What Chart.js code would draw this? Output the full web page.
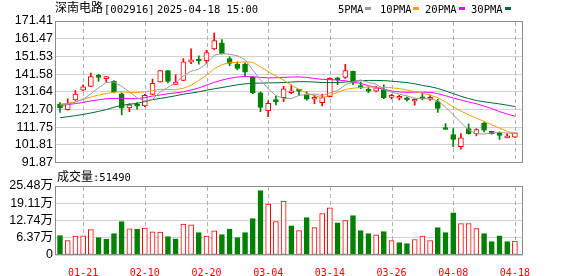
<!DOCTYPE html>
<html>
<head>
<meta charset="utf-8">
<script src="https://cdn.jsdelivr.net/npm/chart.js@4.4.1/dist/chart.umd.min.js"></script>
<style>
  html, body { margin: 0; padding: 0; background: #fff; }
  #wrap { position: relative; width: 578px; height: 276px; overflow: hidden; }
  canvas { position: absolute; left: 0; }
  #k { top: 0; }
  #v { top: 168px; }
</style>
</head>
<body>
<div id="wrap">
  <canvas id="k" width="578" height="172"></canvas>
  <canvas id="v" width="578" height="108"></canvas>
</div>
<script>
'use strict';

var stockName = '深南电路';
var stockCode = '002916';
var quoteTime = '2025-04-18 15:00';

var dates = ['01-16','01-17','01-20','01-21','01-22','01-23','01-24','01-27',
  '02-05','02-06','02-07','02-10','02-11','02-12','02-13','02-14','02-17','02-18','02-19','02-20',
  '02-21','02-24','02-25','02-26','02-27','02-28','03-03','03-04','03-05','03-06','03-07','03-10',
  '03-11','03-12','03-13','03-14','03-17','03-18','03-19','03-20','03-21','03-24','03-25','03-26',
  '03-27','03-28','03-31','04-01','04-02','04-03','04-07','04-08','04-09','04-10','04-11','04-14',
  '04-15','04-16','04-17','04-18'];
var tickDates = ['01-21','02-10','02-20','03-04','03-14','03-26','04-08','04-18'];

var openP  = [124.8,121.5,127.0,132.5,134.7,140.2,139.0,137.5,130.5,122.6,124.3,123.7,130.1,137.1,143.5,135.8,138.0,148.2,149.6,149.1,
              155.7,159.1,150.3,147.0,147.0,139.7,131.0,121.0,127.2,128.3,131.1,132.5,129.8,127.4,125.5,128.9,139.2,139.7,143.1,135.1,
              132.9,132.0,132.9,128.5,128.0,128.0,126.3,128.7,127.4,126.1,110.6,107.6,100.8,110.9,108.1,114.0,109.4,107.8,105.7,106.1];
var highP  = [125.5,127.6,132.3,135.6,142.1,141.5,140.2,137.9,131.0,125.0,125.5,130.2,138.8,143.6,143.6,141.1,150.3,155.8,151.8,154.9,
              164.6,160.9,151.2,148.5,147.9,140.2,131.6,126.5,129.2,134.7,135.6,132.9,131.6,129.8,130.2,139.5,139.7,147.0,143.2,136.9,
              134.2,134.7,135.6,130.2,129.6,128.7,127.6,130.7,129.8,127.4,113.7,110.9,108.1,113.6,110.9,114.6,109.4,109.1,108.1,108.5];
var lowP   = [120.0,121.3,126.8,132.3,134.5,137.5,137.0,131.0,118.6,120.4,121.9,123.3,130.0,137.0,136.6,135.6,137.8,147.4,147.2,147.4,
              155.2,152.7,146.3,143.9,140.2,130.5,120.4,117.7,124.3,126.1,130.5,129.6,126.9,125.0,123.7,128.7,135.6,139.2,135.6,133.4,
              131.1,131.6,127.7,127.6,127.0,126.3,124.1,127.0,126.7,120.0,110.4,100.8,99.3,107.8,106.8,109.1,107.8,104.8,105.7,106.0];
var closeP = [122.6,125.0,130.3,134.4,140.2,139.7,139.5,131.6,122.4,124.3,123.5,129.6,136.4,143.5,137.5,137.1,148.5,149.6,148.9,153.6,
              160.4,153.0,147.6,144.8,142.6,131.0,122.8,125.2,126.1,133.3,131.6,132.0,127.4,128.0,128.3,139.2,138.4,143.5,136.5,133.8,
              132.0,133.8,128.3,128.9,128.3,127.1,127.4,127.6,128.3,122.2,110.4,104.8,105.7,108.1,110.4,110.0,108.1,107.1,105.9,108.5];
var prevClose = 124.9;

var ma5  = [124.3,124.6,125.8,127.5,130.5,133.9,136.8,137.1,134.7,131.5,128.3,126.5,127.4,131.5,134.1,136.8,140.6,143.2,144.3,147.5,
            152.2,153.1,152.7,151.9,149.7,143.8,138.3,133.3,129.5,127.9,127.8,129.6,130.1,130.3,129.5,131.0,132.3,135.5,137.2,138.3,
            136.8,135.9,132.9,131.4,130.3,129.3,128.0,127.8,127.7,126.5,123.1,118.7,114.3,110.2,108.0,107.9,108.5,108.7,108.4,108.1];
var ma10 = [124.6,125.2,126.0,127.4,128.6,129.8,130.6,131.4,131.6,131.3,131.2,131.6,132.3,133.0,132.9,132.8,133.6,135.3,138.0,140.9,
            144.6,146.9,148.0,148.2,148.4,148.2,145.6,143.0,140.5,138.2,135.3,133.0,130.9,129.4,128.4,129.6,131.3,132.9,133.6,134.1,
            134.3,134.2,134.1,133.9,133.4,132.6,131.8,130.8,129.7,128.3,125.9,123.1,120.8,118.6,116.8,115.0,113.1,111.2,109.4,108.2];
var ma20 = [123.9,124.4,125.0,125.6,126.5,127.1,127.7,127.9,127.9,127.8,127.7,128.3,129.2,129.8,130.5,131.0,131.6,132.6,133.8,135.4,
            136.9,138.2,139.2,139.9,140.2,140.1,139.7,139.4,139.5,139.7,139.9,140.0,139.7,139.1,138.6,138.5,138.2,137.8,137.1,136.3,
            135.1,134.1,133.0,132.1,131.5,131.3,131.4,131.4,131.3,130.6,129.4,128.1,127.0,125.9,124.9,123.6,122.2,120.5,119.1,117.9];
var ma30 = [117.0,117.6,118.2,118.9,119.7,120.6,121.6,122.9,124.0,124.6,125.1,126.1,127.2,127.9,128.6,129.4,130.3,130.9,131.6,132.5,
            133.3,134.0,134.8,135.5,136.1,136.4,136.5,136.6,136.7,136.8,137.1,137.3,137.3,137.1,136.8,136.8,136.8,137.1,137.5,137.8,
            138.0,138.0,137.9,137.6,137.2,136.8,136.1,135.2,134.5,133.5,132.1,130.6,129.1,127.8,126.7,126.0,125.4,124.8,124.1,123.3];

var volume = [71400,52900,70200,70500,93600,64100,58000,79200,123000,96200,96000,99700,85100,84900,68200,60100,114300,111000,82500,70300,
              89100,75200,96000,64300,82400,134200,238100,188400,123300,199200,108100,90200,138000,101300,153100,174200,119200,127400,145300,90100,
              79200,74100,86200,53200,46100,42300,57100,70200,53400,101000,82600,156100,116300,116200,97200,79100,49300,71000,49200,51490];

var priceTicks = [91.87, 101.81, 111.75, 121.70, 131.64, 141.58, 151.53, 161.47, 171.41];
var volTicks = [0, 63700, 127400, 191100, 254800];

var maNames = ['5PMA', '10PMA', '20PMA', '30PMA'];
var maColors = ['#9a9a9a', '#f5a200', '#ff00ff', '#00693a'];
var legendX = [338, 380, 425, 471];
var swatchX = [365, 413, 459, 505];

var upColor = '#ff0000';
var downColor = '#008000';
var labelFont = '"Liberation Sans", "Noto Sans CJK SC", sans-serif';
var monoFont = '"DejaVu Sans Mono", monospace';
var cjkFont = '"Noto Sans CJK SC", sans-serif';

var tickIdx = tickDates.map(function (d) { return dates.indexOf(d); });

function xy(arr) {
  return arr.map(function (v, i) { return {x: i, y: v}; });
}

var isUp = closeP.map(function (c, i) { return c >= openP[i]; });
var volUp = closeP.map(function (c, i) { return c >= (i === 0 ? prevClose : closeP[i - 1]); });

function dateAxis(showLabels) {
  return {
    type: 'linear',
    min: -0.65,
    max: 60.05,
    offset: false,
    afterBuildTicks: function (s) {
      s.ticks = tickIdx.map(function (v) { return {value: v}; });
    },
    afterFit: function (s) { s.height = showLabels ? 21 : 0; },
    grid: { display: false },
    border: { display: false },
    ticks: {
      display: showLabels,
      autoSkip: false,
      maxRotation: 0,
      padding: 4,
      color: '#ff0000',
      font: { family: monoFont, size: 10 },
      callback: function (v) { return dates[v]; }
    }
  };
}

function valueAxis(min, max, ticks, fmt) {
  return {
    min: min,
    max: max,
    afterBuildTicks: function (s) {
      s.ticks = ticks.map(function (v) { return {value: v}; });
    },
    afterFit: function (s) { s.width = 55; },
    grid: { color: '#d2d2d2', drawTicks: false },
    border: { display: false },
    ticks: { autoSkip: false, padding: 2, color: '#000', font: { family: labelFont, size: 12.5 }, callback: fmt }
  };
}

// dashed vertical lines at the date ticks (dashes drawn as short segments)
var dashedGrid = {
  id: 'dashedGrid',
  beforeDatasetsDraw: function (chart) {
    var xs = chart.scales.x, a = chart.chartArea, ctx = chart.ctx;
    ctx.save();
    ctx.fillStyle = '#b0b0b0';
    tickIdx.forEach(function (v) {
      var px = Math.round(xs.getPixelForValue(v));
      for (var y = Math.round(a.top) + 1; y < a.bottom - 1; y += 7) {
        ctx.fillRect(px, y, 1, Math.min(4, a.bottom - 1 - y));
      }
    });
    ctx.restore();
  }
};

var frame = {
  id: 'frame',
  afterDatasetsDraw: function (chart) {
    var a = chart.chartArea, ctx = chart.ctx;
    ctx.save();
    ctx.strokeStyle = '#8c8c8c';
    ctx.lineWidth = 1;
    ctx.strokeRect(Math.round(a.left) + 0.5, Math.round(a.top) + 0.5,
      Math.round(a.right - a.left) - 1, Math.round(a.bottom - a.top) - 1);
    ctx.restore();
  }
};

var header = {
  id: 'header',
  afterDraw: function (chart) {
    var ctx = chart.ctx;
    ctx.save();
    ctx.fillStyle = '#000';
    ctx.font = '12px ' + cjkFont;
    ctx.fillText(stockName, 55, 12);
    ctx.font = '10.5px ' + monoFont;
    ctx.fillText('[' + stockCode + ']', 104, 12.5);
    ctx.fillText(quoteTime, 157, 12.5);
    maNames.forEach(function (n, k) {
      ctx.fillStyle = '#000';
      ctx.fillText(n, legendX[k], 12.5);
      ctx.fillStyle = maColors[k];
      ctx.fillRect(swatchX[k], 7, 6, 3);
    });
    ctx.restore();
  }
};

var volHeader = {
  id: 'volHeader',
  afterDraw: function (chart) {
    var ctx = chart.ctx;
    ctx.save();
    ctx.fillStyle = '#000';
    ctx.font = '12px ' + cjkFont;
    ctx.fillText('成交量', 57, 12.5);
    ctx.font = '10.5px ' + monoFont;
    ctx.fillText(':' + volume[volume.length - 1], 93, 12.5);
    ctx.restore();
  }
};

var maSets = [ma5, ma10, ma20, ma30].map(function (arr, k) {
  return {
    type: 'line',
    data: xy(arr),
    borderColor: maColors[k],
    borderWidth: 1,
    pointRadius: 0,
    tension: 0,
    order: 0
  };
});

new Chart(document.getElementById('k'), {
  type: 'bar',
  data: {
    datasets: maSets.concat([
      {
        data: dates.map(function (d, i) { return {x: i, y: [openP[i], closeP[i]]}; }),
        backgroundColor: isUp.map(function (u) { return u ? '#ffffff' : downColor; }),
        borderColor: isUp.map(function (u) { return u ? upColor : downColor; }),
        borderWidth: 1,
        borderSkipped: false,
        barThickness: 5,
        minBarLength: 2,
        grouped: false,
        order: 1
      },
      {
        data: dates.map(function (d, i) { return {x: i, y: [lowP[i], highP[i]]}; }),
        backgroundColor: isUp.map(function (u) { return u ? upColor : downColor; }),
        borderWidth: 0,
        barThickness: 1,
        grouped: false,
        order: 2
      }
    ])
  },
  options: {
    responsive: false,
    animation: false,
    devicePixelRatio: 1,
    layout: { padding: { top: 21, right: 55, bottom: 7, left: 0 } },
    plugins: { legend: { display: false }, tooltip: { enabled: false } },
    scales: {
      x: dateAxis(false),
      y: valueAxis(91.87, 171.41, priceTicks, function (v) { return v.toFixed(2); })
    }
  },
  plugins: [dashedGrid, frame, header]
});

new Chart(document.getElementById('v'), {
  type: 'bar',
  data: {
    datasets: [{
      data: xy(volume),
      backgroundColor: volUp.map(function (u) { return u ? '#ffffff' : downColor; }),
      borderColor: volUp.map(function (u) { return u ? upColor : downColor; }),
      borderWidth: 1,
      borderSkipped: false,
      barThickness: 5,
      grouped: false
    }]
  },
  options: {
    responsive: false,
    animation: false,
    devicePixelRatio: 1,
    layout: { padding: { top: 18, right: 55, bottom: 0, left: 0 } },
    plugins: { legend: { display: false }, tooltip: { enabled: false } },
    scales: {
      x: dateAxis(true),
      y: valueAxis(0, 254800, volTicks, function (v) {
        return v === 0 ? '0' : (v / 10000).toFixed(2) + '万';
      })
    }
  },
  plugins: [dashedGrid, frame, volHeader]
});
</script>
</body>
</html>
